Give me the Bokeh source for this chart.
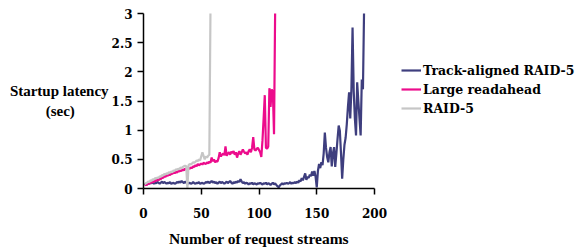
from bokeh.plotting import figure
from bokeh.models import Range1d, FixedTicker, Legend, LegendItem
from bokeh.embed import file_html
from bokeh.resources import INLINE

# ---- data -------------------------------------------------------------
x_ticks = [0, 50, 100, 150, 200]
x_tick_labels = ["0", "50", "100", "150", "200"]
y_ticks = [0, 0.5, 1, 1.5, 2, 2.5, 3]
y_tick_labels = ["0", "0.5", "1", "1.5", "2", "2.5", "3"]

series_names = ["Track-aligned RAID-5", "Large readahead", "RAID-5"]

track_aligned = [
    0.06, 0.08, 0.07, 0.09, 0.08, 0.10, 0.09, 0.11, 0.08, 0.10,
    0.09, 0.11, 0.10, 0.08, 0.10, 0.12, 0.09, 0.11, 0.10, 0.08,
    0.10, 0.09, 0.11, 0.08, 0.09, 0.10, 0.08, 0.09, 0.11, 0.10,
    0.12, 0.10, 0.13, 0.11, 0.09, 0.12, 0.10, 0.08, 0.09, 0.10,
    0.08, 0.09, 0.11, 0.09, 0.08, 0.10, 0.09, 0.11, 0.08, 0.09,
    0.10, 0.08, 0.09, 0.11, 0.10, 0.12, 0.09, 0.11, 0.13, 0.10,
    0.12, 0.09, 0.11, 0.08, 0.10, 0.12, 0.09, 0.11, 0.10, 0.08,
    0.10, 0.12, 0.09, 0.11, 0.13, 0.10, 0.08, 0.11, 0.09, 0.12,
    0.10, 0.13, 0.11, 0.16, 0.12, 0.09, 0.11, 0.08, 0.10, 0.09,
    0.07, 0.09, 0.08, 0.10, 0.07, 0.09, 0.08, 0.07, 0.09, 0.08,
    0.10, 0.08, 0.07, 0.09, 0.08, 0.10, 0.07, 0.09, 0.08, 0.06,
    0.08, 0.10, 0.07, 0.09, 0.06, 0.04, 0.02, 0.05, 0.07, 0.09,
    0.07, 0.09, 0.08, 0.10, 0.08, 0.09, 0.11, 0.08, 0.10, 0.09,
    0.11, 0.09, 0.12, 0.10, 0.14, 0.12, 0.18, 0.14, 0.20, 0.26,
    0.15, 0.20, 0.18, 0.24, 0.21, 0.29, 0.22, 0.30, 0.20, 0.02,
    0.30, 0.42, 0.35, 0.45, 0.40, 0.60, 0.96, 0.70, 0.54, 0.45,
    0.62, 0.71, 0.38, 0.60, 0.71, 0.37, 0.60, 0.85, 1.08, 0.99,
    0.60, 0.17, 0.50, 0.75, 0.87, 1.10, 1.40, 1.65, 1.20, 1.70,
    2.76, 1.67, 1.20, 0.91, 1.82, 1.50, 1.20, 0.91, 1.87, 1.70,
    3.10,
]

large_readahead = [
    0.05, 0.07, 0.06, 0.09, 0.08, 0.11, 0.10, 0.12, 0.11, 0.14,
    0.13, 0.15, 0.14, 0.17, 0.16, 0.19, 0.18, 0.21, 0.20, 0.23,
    0.22, 0.24, 0.23, 0.26, 0.25, 0.28, 0.26, 0.29, 0.27, 0.30,
    0.29, 0.31, 0.30, 0.33, 0.31, 0.34, 0.33, 0.32, 0.35, 0.34,
    0.36, 0.35, 0.38, 0.37, 0.40, 0.38, 0.42, 0.40, 0.41, 0.43,
    0.41, 0.44, 0.43, 0.42, 0.45, 0.43, 0.46, 0.44, 0.53, 0.47,
    0.50, 0.45, 0.47, 0.46, 0.52, 0.62, 0.55, 0.58, 0.60, 0.57,
    0.72, 0.56, 0.60, 0.62, 0.58, 0.63, 0.61, 0.64, 0.58, 0.62,
    0.53, 0.60, 0.64, 0.58, 0.62, 0.67, 0.63, 0.60, 0.62, 0.58,
    0.64, 0.67, 0.62, 0.70, 0.88, 0.67, 0.65, 0.68, 0.70, 0.66,
    0.62, 0.54, 0.82, 1.20, 1.60, 0.70, 0.68, 0.72, 1.72, 1.40,
    1.70, 1.65, 0.93, 3.10,
]

raid5 = [
    0.07, 0.09, 0.10, 0.12, 0.11, 0.14, 0.13, 0.16, 0.15, 0.18,
    0.17, 0.19, 0.18, 0.21, 0.20, 0.23, 0.22, 0.25, 0.24, 0.26,
    0.25, 0.28, 0.27, 0.29, 0.28, 0.31, 0.30, 0.33, 0.32, 0.34,
    0.33, 0.36, 0.35, 0.37, 0.38, 0.39, 0.38, 0.00, 0.40, 0.42,
    0.41, 0.43, 0.45, 0.44, 0.46, 0.48, 0.47, 0.50, 0.48, 0.55,
    0.62, 0.56, 0.50, 0.55, 0.53, 0.56, 0.58, 3.10,
]

colors = ["#3E3E7E", "#EC0C8C", "#C6C6C6"]

# ---- figure -----------------------------------------------------------
p = figure(
    frame_width=231, frame_height=175,
    min_border_left=143, min_border_right=207,
    min_border_top=13, min_border_bottom=59,
    x_range=Range1d(0, 200), y_range=Range1d(0, 3),
    output_backend="svg", toolbar_location=None,
)
p.outline_line_color = None
p.xgrid.visible = False
p.ygrid.visible = False
p.background_fill_color = "white"
p.border_fill_color = "white"

renderers = []
for ys, c in zip([track_aligned, large_readahead, raid5], colors):
    xs = list(range(1, len(ys) + 1))
    r = p.line(xs, ys, line_color=c, line_width=2.2)
    renderers.append(r)

for ax, ticks, labels in [(p.xaxis[0], x_ticks, x_tick_labels),
                          (p.yaxis[0], y_ticks, y_tick_labels)]:
    ax.ticker = FixedTicker(ticks=ticks)
    ax.major_label_overrides = {t: l for t, l in zip(ticks, labels)}
    ax.minor_tick_line_color = None
    ax.major_tick_out = 6
    ax.major_tick_in = 0
    ax.axis_line_width = 1.5
    ax.major_tick_line_width = 1.5
    ax.axis_line_color = "black"
    ax.major_tick_line_color = "black"
    ax.major_label_text_font = "DejaVu Serif"
    ax.major_label_text_font_style = "bold"
    ax.major_label_text_font_size = "12px"
    ax.major_label_text_color = "black"
    ax.axis_label_text_font = "Liberation Serif"
    ax.axis_label_text_font_style = "bold"
    ax.axis_label_text_color = "black"

p.xaxis[0].major_label_standoff = 13
p.yaxis[0].major_label_standoff = 5

p.xaxis[0].axis_label = "Number of request streams"
p.xaxis[0].axis_label_text_font_size = "15.5px"
p.xaxis[0].axis_label_standoff = 9

nbsp = "\u00a0"
p.yaxis[0].axis_label = "Startup latency\n(sec)" + nbsp * 9
p.yaxis[0].axis_label_orientation = "horizontal"
p.yaxis[0].axis_label_text_font_size = "15px"
p.yaxis[0].axis_label_text_line_height = 1.25
p.yaxis[0].axis_label_standoff = 0

legend = Legend(
    items=[LegendItem(label=n, renderers=[r]) for n, r in zip(series_names, renderers)],
    location=(27, 71),
    glyph_width=20, glyph_height=18, label_height=18,
    label_standoff=2, spacing=1, padding=0, margin=0,
    border_line_alpha=0, background_fill_alpha=0,
    label_text_font="DejaVu Serif", label_text_font_style="bold",
    label_text_font_size="12.5px", label_text_color="black",
)
p.add_layout(legend, "right")

open("out.html", "w").write(file_html(p, INLINE))
